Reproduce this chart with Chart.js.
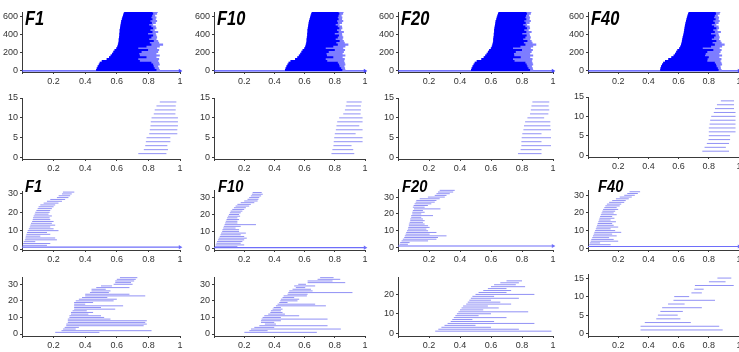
<!DOCTYPE html>
<html><head><meta charset="utf-8">
<script src="https://cdn.jsdelivr.net/npm/chart.js@4.4.0/dist/chart.umd.min.js"></script>
<style>
html,body{margin:0;padding:0;width:739px;height:352px;overflow:hidden;background:#fff;position:relative;}
canvas.pc{position:absolute;}
.ttl{position:absolute;font-family:'Liberation Sans',Arial,sans-serif;font-weight:bold;font-style:italic;color:#000;line-height:1;transform-origin:0 0;white-space:nowrap;}
</style></head><body>
<script>
// ---------- tick labels ----------
const xTickVals = [0.2, 0.4, 0.6, 0.8, 1];
const yTicksTop = [0, 200, 400, 600];
const yTicks15 = [0, 5, 10, 15];
const yTicks30 = [0, 10, 20, 30];
const yTicks20 = [0, 10, 20];
const titles = ['F1', 'F10', 'F20', 'F40'];

// ---------- row 1: full barcodes (rows of bars every 20 units) ----------
const topRowY = [10,30,50,70,90,110,130,150,170,190,210,230,250,270,290,310,330,350,370,390,410,430,450,470,490,510,530,550,570,590,610,630,650];
const F1_top_birth = [0.469,0.473,0.479,0.486,0.492,0.505,0.536,0.551,0.561,0.570,0.578,0.586,0.597,0.603,0.607,0.610,0.612,0.612,0.614,0.616,0.616,0.618,0.618,0.620,0.622,0.624,0.626,0.628,0.632,0.635,0.639,0.643,0.647];
const F1_top_dark  = [0.851,0.840,0.834,0.830,0.819,0.746,0.736,0.788,0.746,0.742,0.757,0.798,0.736,0.788,0.819,0.809,0.834,0.805,0.819,0.830,0.798,0.826,0.813,0.830,0.819,0.805,0.822,0.813,0.826,0.819,0.824,0.830,0.826];
const F1_top_light = [0.872,0.868,0.862,0.872,0.868,0.862,0.868,0.851,0.872,0.851,0.862,0.868,0.855,0.872,0.893,0.868,0.862,0.851,0.855,0.851,0.847,0.862,0.840,0.851,0.847,0.830,0.847,0.855,0.847,0.851,0.843,0.855,0.859];
const F10_top_birth = [0.470,0.474,0.480,0.487,0.494,0.507,0.537,0.552,0.562,0.571,0.579,0.587,0.598,0.604,0.608,0.611,0.613,0.613,0.615,0.617,0.617,0.619,0.619,0.621,0.623,0.625,0.627,0.629,0.633,0.636,0.640,0.644,0.648];
const F10_top_dark  = [0.850,0.842,0.832,0.828,0.820,0.750,0.740,0.790,0.748,0.745,0.760,0.800,0.740,0.790,0.820,0.810,0.832,0.806,0.820,0.828,0.800,0.825,0.815,0.830,0.820,0.806,0.820,0.815,0.825,0.820,0.825,0.830,0.825];
const F10_top_light = [0.870,0.868,0.864,0.870,0.866,0.862,0.866,0.852,0.870,0.852,0.860,0.868,0.856,0.870,0.890,0.866,0.860,0.852,0.856,0.850,0.848,0.860,0.842,0.850,0.848,0.832,0.848,0.856,0.848,0.850,0.845,0.855,0.858];
const F20_top_birth = [0.471,0.475,0.481,0.488,0.495,0.508,0.538,0.553,0.563,0.572,0.580,0.588,0.599,0.605,0.609,0.612,0.614,0.614,0.616,0.618,0.618,0.620,0.620,0.622,0.624,0.626,0.628,0.630,0.634,0.637,0.641,0.645,0.649];
const F20_top_dark  = [0.852,0.842,0.835,0.830,0.822,0.752,0.742,0.792,0.750,0.748,0.760,0.800,0.742,0.790,0.822,0.812,0.835,0.808,0.822,0.830,0.802,0.828,0.815,0.832,0.822,0.808,0.824,0.815,0.828,0.822,0.826,0.832,0.828];
const F20_top_light = [0.872,0.870,0.864,0.872,0.868,0.864,0.868,0.853,0.872,0.853,0.862,0.870,0.857,0.872,0.892,0.868,0.862,0.853,0.857,0.852,0.849,0.862,0.843,0.852,0.849,0.833,0.849,0.857,0.849,0.852,0.846,0.857,0.860];
const F40_top_birth = [0.478,0.480,0.484,0.490,0.498,0.510,0.532,0.552,0.567,0.576,0.584,0.592,0.604,0.611,0.616,0.620,0.622,0.624,0.627,0.630,0.633,0.635,0.637,0.639,0.641,0.643,0.646,0.649,0.652,0.655,0.659,0.663,0.667];
const F40_top_dark  = [0.865,0.860,0.852,0.848,0.840,0.790,0.792,0.800,0.775,0.780,0.790,0.830,0.760,0.815,0.840,0.825,0.850,0.820,0.835,0.845,0.815,0.840,0.830,0.850,0.835,0.820,0.840,0.830,0.845,0.835,0.840,0.848,0.845];
const F40_top_light = [0.885,0.880,0.878,0.888,0.884,0.878,0.884,0.870,0.888,0.870,0.878,0.885,0.872,0.888,0.905,0.885,0.878,0.868,0.872,0.868,0.864,0.880,0.858,0.868,0.865,0.850,0.865,0.872,0.865,0.868,0.860,0.872,0.876];
const topLongY = 0;

// ---------- row 2 (bars y = 1..14) ----------
const F1_r2_birth = [0.736,0.771,0.780,0.784,0.788,0.805,0.809,0.813,0.815,0.820,0.834,0.840,0.851,0.872];
const F1_r2_death = [0.914,0.924,0.920,0.939,0.939,0.983,0.983,0.987,0.987,0.987,0.971,0.973,0.973,0.977];
const F10_r2_birth = [0.778,0.784,0.791,0.793,0.796,0.800,0.807,0.811,0.816,0.829,0.856,0.867,0.873,0.878];
const F10_r2_death = [0.929,0.922,0.911,0.984,0.984,0.938,0.984,0.962,0.984,0.984,0.971,0.973,0.973,0.978];
const F20_r2_birth = [0.774,0.791,0.796,0.796,0.798,0.802,0.809,0.813,0.820,0.835,0.852,0.857,0.861,0.867];
const F20_r2_death = [0.926,0.926,0.987,0.926,0.987,0.926,0.987,0.983,0.983,0.943,0.970,0.976,0.972,0.976];
const F40_r2_birth = [0.757,0.772,0.787,0.798,0.800,0.800,0.800,0.805,0.809,0.816,0.833,0.841,0.854,0.880];
const F40_r2_death = [0.934,0.913,0.934,0.941,0.941,0.977,0.977,0.977,0.977,0.977,0.977,0.967,0.967,0.967];

// ---------- row 3 ----------
const F1_r3_first = 2;
const F1_r3_birth = [0.005,0.007,0.011,0.018,0.022,0.024,0.028,0.032,0.036,0.043,0.049,0.053,0.057,0.064,0.068,0.070,0.074,0.080,0.084,0.091,0.099,0.105,0.116,0.137,0.158,0.179,0.221,0.232,0.253,0.259];
const F1_r3_death = [0.158,0.179,0.084,0.221,0.210,0.116,0.179,0.158,0.231,0.200,0.179,0.210,0.189,0.200,0.179,0.175,0.189,0.168,0.175,0.179,0.189,0.200,0.210,0.231,0.253,0.273,0.294,0.305,0.315,0.331];
const F1_r3_long = 1;
const F10_r3_first = 1;
const F10_r3_birth = [0.007,0.011,0.016,0.020,0.027,0.031,0.038,0.043,0.047,0.054,0.056,0.061,0.065,0.070,0.074,0.078,0.083,0.087,0.092,0.099,0.105,0.110,0.121,0.132,0.143,0.155,0.177,0.200,0.222,0.233,0.244,0.251,0.256];
const F10_r3_death = [0.155,0.200,0.177,0.188,0.200,0.217,0.200,0.177,0.211,0.166,0.166,0.143,0.177,0.278,0.155,0.155,0.166,0.155,0.173,0.166,0.177,0.188,0.200,0.211,0.233,0.244,0.267,0.289,0.294,0.300,0.312,0.323,0.316];
const F10_r3_long = 0.4;
const F20_r3_first = 2;
const F20_r3_birth = [0.010,0.014,0.023,0.031,0.040,0.044,0.049,0.053,0.058,0.064,0.066,0.070,0.070,0.075,0.079,0.079,0.085,0.085,0.092,0.092,0.096,0.103,0.096,0.101,0.107,0.114,0.118,0.140,0.193,0.237,0.248,0.258,0.269];
const F20_r3_death = [0.064,0.075,0.194,0.248,0.258,0.313,0.204,0.248,0.194,0.183,0.204,0.194,0.172,0.161,0.172,0.161,0.150,0.226,0.150,0.172,0.161,0.274,0.172,0.193,0.215,0.237,0.248,0.269,0.302,0.313,0.334,0.356,0.366];
const F20_r3_long = 1;
const F40_r3_first = 2;
const F40_r3_birth = [0.008,0.012,0.018,0.022,0.028,0.033,0.038,0.042,0.047,0.052,0.056,0.060,0.064,0.068,0.072,0.076,0.080,0.085,0.090,0.095,0.100,0.108,0.115,0.125,0.140,0.160,0.185,0.210,0.240,0.260,0.275];
const F40_r3_death = [0.150,0.080,0.200,0.170,0.140,0.190,0.160,0.220,0.180,0.150,0.200,0.170,0.160,0.185,0.150,0.175,0.160,0.190,0.170,0.180,0.200,0.190,0.210,0.220,0.240,0.250,0.270,0.290,0.310,0.330,0.345];
const F40_r3_long = 1;

// ---------- row 4 ----------
const F1_r4_birth = [0.21,0.25,0.26,0.27,0.28,0.28,0.29,0.29,0.29,0.30,0.30,0.31,0.31,0.32,0.33,0.33,0.33,0.33,0.33,0.34,0.36,0.38,0.40,0.40,0.43,0.44,0.44,0.47,0.50,0.58,0.59,0.59,0.60,0.62];
const F1_r4_death = [0.49,0.82,0.34,0.36,0.77,0.79,0.78,0.79,0.56,0.52,0.50,0.42,0.45,0.41,0.59,0.50,0.64,0.40,0.45,0.58,0.60,0.54,0.78,0.68,0.55,0.56,0.53,0.68,0.57,0.70,0.69,0.71,0.72,0.73];
const F10_r4_birth = [0.201,0.234,0.245,0.267,0.300,0.337,0.311,0.311,0.315,0.322,0.333,0.359,0.373,0.377,0.388,0.395,0.410,0.421,0.432,0.439,0.443,0.454,0.461,0.487,0.492,0.498,0.520,0.542,0.531,0.558,0.620,0.620,0.686,0.703];
const F10_r4_death = [0.681,0.355,0.840,0.399,0.752,0.410,0.399,0.443,0.752,0.443,0.564,0.470,0.454,0.443,0.454,0.443,0.741,0.670,0.487,0.553,0.564,0.531,0.615,0.620,0.917,0.653,0.642,0.604,0.670,0.609,0.869,0.785,0.836,0.792];
const F20_r4_birth = [0.24,0.26,0.28,0.30,0.32,0.34,0.35,0.36,0.37,0.38,0.39,0.40,0.41,0.42,0.44,0.45,0.46,0.47,0.48,0.50,0.52,0.55,0.58,0.60,0.62,0.66,0.70];
const F20_r4_death = [0.99,0.78,0.60,0.50,0.88,0.62,0.48,0.70,0.52,0.60,0.84,0.55,0.65,0.58,0.73,0.66,0.60,0.78,0.62,0.88,0.70,0.73,0.70,0.82,0.76,0.78,0.80];
const F40_r4_birth = [0.348,0.348,0.376,0.452,0.463,0.479,0.491,0.530,0.566,0.571,0.685,0.704,0.708,0.801,0.857];
const F40_r4_death = [0.892,0.869,0.681,0.612,0.594,0.628,0.754,0.640,0.841,0.670,0.754,0.766,0.965,0.911,0.949];

// ---------- styling ----------
const AXIS = '#3a3a3a';
const LABEL = '#333333';
const BAR = 'rgb(145,145,245)';
const LONG = 'rgb(110,110,250)';
const DARK = 'rgb(0,0,255)';
const LIGHT = 'rgb(125,125,255)';
const COLS = [[22,180],[214,365],[398,553],[588,739]];

function seq(first, n){ const a=[]; for(let i=0;i<n;i++) a.push(first+i); return a; }
function segs(b, d, ys){
  const pts=[];
  for(let i=0;i<b.length;i++){ pts.push({x:b[i],y:ys[i]},{x:d[i],y:ys[i]},{x:null,y:null}); }
  return pts;
}
function lineDs(data, color, w){
  return {data:data, showLine:true, borderColor:color, backgroundColor:color, borderWidth:w, pointRadius:0, spanGaps:false, borderCapStyle:'butt'};
}
function longDs(y, color){
  return [
    lineDs([{x:0,y:y},{x:1,y:y}], color, 1.1),
    {data:[{x:1,y:y}], showLine:false, pointStyle:'triangle', pointRotation:90, pointRadius:2.4,
     backgroundColor:color, borderColor:color, borderWidth:0, clip:false}
  ];
}

function makePanel(col, top, bottom, ymin, ymax, yticks, datasets){
  const padL=34, padT=10, padR=12, padB=22;
  const L=COLS[col][0], R=COLS[col][1];
  const cv=document.createElement('canvas');
  cv.className='pc';
  const w=(R-L)+padL+padR, h=(bottom-top)+padT+padB;
  cv.width=w; cv.height=h;
  cv.style.width=w+'px'; cv.style.height=h+'px';
  cv.style.left=(L-padL)+'px'; cv.style.top=(top-padT)+'px';
  document.body.appendChild(cv);
  const font={family:"'Liberation Sans', Arial, sans-serif", size:9};
  new Chart(cv, {
    type:'scatter',
    data:{datasets:datasets},
    options:{
      responsive:false, animation:false, devicePixelRatio:1,
      layout:{padding:{left:0,top:padT,right:padR,bottom:0}},
      plugins:{legend:{display:false}, tooltip:{enabled:false}, title:{display:false}},
      elements:{point:{radius:0}, line:{tension:0}},
      scales:{
        x:{type:'linear', min:0, max:1,
          afterBuildTicks:s=>{ s.ticks=[{value:0}].concat(xTickVals.map(v=>({value:v}))); },
          afterFit:s=>{ s.height=padB; s.paddingLeft=0; s.paddingRight=0; },
          ticks:{callback:v=>v===0?'':String(v), font:font, color:LABEL, padding:2, maxRotation:0, autoSkip:false},
          grid:{display:true, drawOnChartArea:false, drawTicks:true, tickLength:2, color:AXIS},
          border:{display:true, color:AXIS, width:1}},
        y:{type:'linear', min:ymin, max:ymax,
          afterBuildTicks:s=>{ s.ticks=yticks.map(v=>({value:v})); },
          afterFit:s=>{ s.width=padL; s.paddingTop=0; s.paddingBottom=0; },
          ticks:{callback:v=>String(v), font:font, color:LABEL, padding:2, autoSkip:false},
          grid:{display:true, drawOnChartArea:false, drawTicks:true, tickLength:2, color:AXIS},
          border:{display:true, color:AXIS, width:1}}
      }
    }
  });
}

function addTitle(text, left, capTop, size, sx){
  const d=document.createElement('div');
  d.className='ttl';
  d.textContent=text;
  d.style.fontSize=size+'px';
  d.style.left=left+'px';
  d.style.top=(capTop-0.13*size)+'px';
  d.style.transform='scaleX('+sx+')';
  document.body.appendChild(d);
}

// ---------- row 1 ----------
const topSets = [
  [F1_top_birth, F1_top_dark, F1_top_light],
  [F10_top_birth, F10_top_dark, F10_top_light],
  [F20_top_birth, F20_top_dark, F20_top_light],
  [F40_top_birth, F40_top_dark, F40_top_light]
];
topSets.forEach((s,c)=>{
  const ds=[lineDs(segs(s[0],s[1],topRowY),DARK,2.1), lineDs(segs(s[0],s[2],topRowY),LIGHT,2.1)].concat(longDs(topLongY,'rgb(70,70,255)'));
  makePanel(c, 12, 72, -12, 650, yTicksTop, ds);
});

// ---------- row 2 ----------
const r2 = [[F1_r2_birth,F1_r2_death],[F10_r2_birth,F10_r2_death],[F20_r2_birth,F20_r2_death],[F40_r2_birth,F40_r2_death]];
const r2geom = [[98,159,-0.35,15],[98,159,-0.35,15],[98,159,-0.35,15],[97,157,-0.5,15]];
r2.forEach((s,c)=>{
  const g=r2geom[c];
  makePanel(c, g[0], g[1], g[2], g[3], yTicks15, [lineDs(segs(s[0],s[1],seq(1,s[0].length)),BAR,1)]);
});

// ---------- row 3 ----------
const r3 = [
  [F1_r3_birth,F1_r3_death,F1_r3_first,F1_r3_long],
  [F10_r3_birth,F10_r3_death,F10_r3_first,F10_r3_long],
  [F20_r3_birth,F20_r3_death,F20_r3_first,F20_r3_long],
  [F40_r3_birth,F40_r3_death,F40_r3_first,F40_r3_long]
];
const r3geom = [[191,250,-0.54,31.6],[190,250,-1.0,34.5],[189,250,-1.4,34.8],[190,250,-1.0,33]];
r3.forEach((s,c)=>{
  const g=r3geom[c];
  const ds=[lineDs(segs(s[0],s[1],seq(s[2],s[0].length)),BAR,1)].concat(longDs(s[3],LONG));
  makePanel(c, g[0], g[1], g[2], g[3], yTicks30, ds);
});

// ---------- row 4 ----------
const r4 = [[F1_r4_birth,F1_r4_death],[F10_r4_birth,F10_r4_death],[F20_r4_birth,F20_r4_death],[F40_r4_birth,F40_r4_death]];
const r4geom = [[277,336,-1.2,34.4,yTicks30],[277,336,-1.2,34.4,yTicks30],[277,336,-1.5,29,yTicks20],[274,336,-0.63,16.1,yTicks15]];
r4.forEach((s,c)=>{
  const g=r4geom[c];
  makePanel(c, g[0], g[1], g[2], g[3], g[4], [lineDs(segs(s[0],s[1],seq(1,s[0].length)),BAR,1)]);
});

// ---------- titles ----------
const titleLeft1 = [25, 217, 401, 591];
const titleLeft3 = [25, 218, 402, 598];
titles.forEach((t,c)=>{
  addTitle(t, titleLeft1[c], 11, 20, 0.82);
  addTitle(t, titleLeft3[c], 181, 16, 0.92);
});
</script>
</body></html>
